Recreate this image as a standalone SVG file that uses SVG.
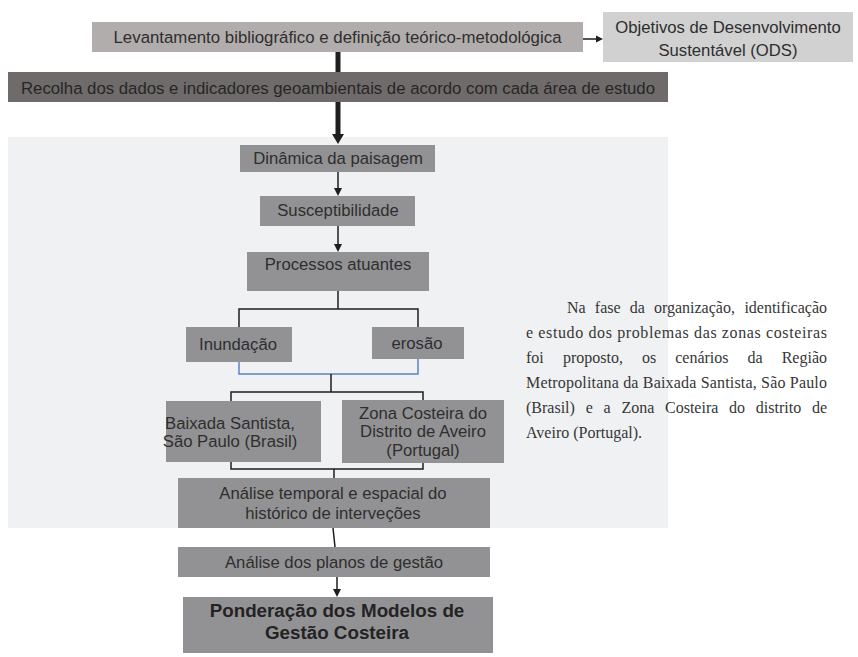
<svg xmlns="http://www.w3.org/2000/svg" width="858" height="657" viewBox="0 0 858 657">
<style>
.s{font-family:"Liberation Sans",Arial,sans-serif;font-size:16.7px;fill:#2e2e2e;text-anchor:middle}
.b{font-weight:bold;font-size:18.8px;fill:#232323}
.n{fill:#929294}
.c{fill:none;stroke:#1e1e1e;stroke-width:1.5}
.p{font-family:"Liberation Serif","Times New Roman",serif;font-size:16px;fill:#363636}
</style>
<rect x="0" y="0" width="858" height="657" fill="#ffffff"/>
<rect id="panel" x="8" y="137" width="660" height="391" fill="#f0f1f3"/>
<g id="connectors">
<line x1="338" y1="52" x2="338" y2="72" stroke="#1e1e1e" stroke-width="5"/>
<line x1="338" y1="102" x2="338" y2="136" stroke="#1e1e1e" stroke-width="5"/>
<polygon points="332,134 344,134 338,144" fill="#1e1e1e"/>
<line class="c" x1="583" y1="39" x2="598" y2="39"/>
<polygon points="596,35.5 603,39 596,42.5" fill="#1e1e1e"/>
<line class="c" x1="338" y1="172" x2="338" y2="189"/>
<polygon points="334,188 342,188 338,196" fill="#1e1e1e"/>
<line class="c" x1="338" y1="226" x2="338" y2="245"/>
<polygon points="334,244 342,244 338,252" fill="#1e1e1e"/>
<path class="c" d="M338,291 V309 M239,327 V309 H418 V327"/>
<path fill="none" stroke="#5a82c8" stroke-width="1.5" d="M239,362 V374 H418 V359"/>
<path class="c" d="M331,374 V392 M231,401 V392 H423 V400"/>
<path class="c" d="M231,462 V469 H423 V463 M334,469 V478"/>
<path class="c" d="M333,528 L335,547"/>
<line class="c" x1="337" y1="577" x2="337" y2="590"/>
<polygon points="333,589 341,589 337,597" fill="#1e1e1e"/>
</g>
<g id="n-levantamento">
<rect x="92" y="22" width="491" height="30" fill="#b1adac"/>
<text class="s" x="337.5" y="43" textLength="448" lengthAdjust="spacingAndGlyphs">Levantamento bibliográfico e definição teórico-metodológica</text>
</g>
<g id="n-ods">
<rect x="603" y="12" width="250" height="50" fill="#d1d1d1"/>
<text class="s" x="728" y="33">Objetivos de Desenvolvimento</text>
<text class="s" x="728" y="56">Sustentável (ODS)</text>
</g>
<g id="n-recolha">
<rect x="8" y="72" width="660" height="30" fill="#6f6b6a"/>
<text class="s" x="338" y="93.5" style="fill:#262626" textLength="634" lengthAdjust="spacingAndGlyphs">Recolha dos dados e indicadores geoambientais de acordo com cada área de estudo</text>
</g>
<g id="n-dinamica">
<rect class="n" x="240" y="145" width="195" height="27"/>
<text class="s" x="338" y="164">Dinâmica da paisagem</text>
</g>
<g id="n-susceptibilidade">
<rect class="n" x="260" y="196" width="155" height="30"/>
<text class="s" x="338" y="216">Susceptibilidade</text>
</g>
<g id="n-processos">
<rect class="n" x="247" y="252" width="182" height="39"/>
<text class="s" x="338" y="270">Processos atuantes</text>
</g>
<g id="n-inundacao">
<rect class="n" x="186" y="327" width="106" height="35"/>
<text class="s" x="238" y="350">Inundação</text>
</g>
<g id="n-erosao">
<rect class="n" x="372" y="327" width="92" height="32"/>
<text class="s" x="417" y="349">erosão</text>
</g>
<g id="n-baixada">
<rect class="n" x="166" y="401" width="155" height="61"/>
<text class="s" x="230" y="429">Baixada Santista,</text>
<text class="s" x="230" y="447">São Paulo (Brasil)</text>
</g>
<g id="n-aveiro">
<rect class="n" x="342" y="400" width="162" height="63"/>
<text class="s" x="423" y="419">Zona Costeira do</text>
<text class="s" x="423" y="437">Distrito de Aveiro</text>
<text class="s" x="423" y="456">(Portugal)</text>
</g>
<g id="n-analise-temporal">
<rect class="n" x="178" y="478" width="312" height="50"/>
<text class="s" x="333" y="499">Análise temporal e espacial do</text>
<text class="s" x="333" y="519">histórico de interveções</text>
</g>
<g id="n-analise-planos">
<rect class="n" x="178" y="547" width="312" height="30"/>
<text class="s" x="334" y="568">Análise dos planos de gestão</text>
</g>
<g id="n-ponderacao">
<rect class="n" x="183" y="597" width="310" height="56"/>
<text class="s b" x="337" y="617">Ponderação dos Modelos de</text>
<text class="s b" x="337" y="639">Gestão Costeira</text>
</g>
<g id="paragraph">
<text class="p" y="313"><tspan x="567">Na</tspan><tspan x="594.8">fase</tspan><tspan x="629.7">da</tspan><tspan x="653.9">organização,</tspan><tspan x="827" text-anchor="end">identificação</tspan></text>
<text class="p" x="526" y="338" textLength="301" lengthAdjust="spacing">e estudo dos problemas das zonas costeiras</text>
<text class="p" y="363"><tspan x="526">foi</tspan><tspan x="562.9">proposto,</tspan><tspan x="641.9">os</tspan><tspan x="675.2">cenários</tspan><tspan x="747.5">da</tspan><tspan x="827" text-anchor="end">Região</tspan></text>
<text class="p" x="526" y="388" textLength="301" lengthAdjust="spacing">Metropolitana da Baixada Santista, São Paulo</text>
<text class="p" y="413"><tspan x="526">(Brasil)</tspan><tspan x="585.7">e</tspan><tspan x="603.5">a</tspan><tspan x="621.4">Zona</tspan><tspan x="665">Costeira</tspan><tspan x="729.1">do</tspan><tspan x="755.8">distrito</tspan><tspan x="827" text-anchor="end">de</tspan></text>
<text class="p" x="526" y="438">Aveiro (Portugal).</text>
</g>
</svg>
